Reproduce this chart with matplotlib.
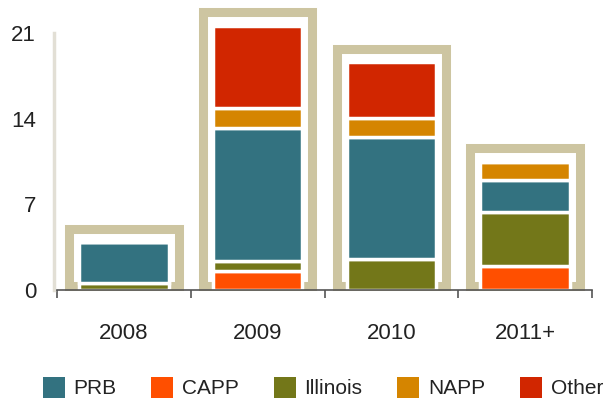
import numpy as np
import matplotlib
matplotlib.use("Agg")
import matplotlib.pyplot as plt
from matplotlib.patches import Rectangle

plt.rcParams['font.family'] = ['Liberation Sans', 'DejaVu Sans']

years = ['2008', '2009', '2010', '2011+']
# coal basin volumes, stacked bottom to top
capp = [0.0, 1.5, 0.0, 1.95]
illinois = [0.57, 0.8, 2.5, 4.4]
prb = [3.3, 10.95, 9.95, 2.6]
napp = [0.0, 1.6, 1.6, 1.5]
other = [0.0, 6.75, 4.55, 0.0]
yticks = [0, 7, 14, 21]

stack = [('CAPP', capp, '#FF4F00'),
         ('Illinois', illinois, '#737719'),
         ('PRB', prb, '#337280'),
         ('NAPP', napp, '#D58500'),
         ('Other', other, '#D12600')]
legend_order = ['PRB', 'CAPP', 'Illinois', 'NAPP', 'Other']

fig = plt.figure(figsize=(6.03, 4.03), dpi=100)
ax = fig.add_axes([57/603, 1 - 289.5/403, 535/603, 287/403])

x = np.arange(len(years))
bottom = np.zeros(len(years))
colors = {}
for name, vals, col in stack:
    vals = np.array(vals)
    ax.bar(x, vals, 0.67, bottom=bottom, color=col, edgecolor='white',
           linewidth=2.5, zorder=3)
    colors[name] = col
    bottom += vals

# beige outline around each stacked column
frame_w = 0.82
for xi, tot in zip(x, bottom):
    ax.add_patch(Rectangle((xi - frame_w/2, 0.25), frame_w, tot + 1.1 - 0.25,
                           facecolor='none', edgecolor='#CDC5A1', linewidth=6.5,
                           joinstyle='miter', zorder=2, clip_on=False))

ax.set_xlim(-0.5, 3.5)
ax.set_ylim(0, 23.5)

for s in ['top', 'right']:
    ax.spines[s].set_visible(False)
ax.spines['left'].set_color('#E2DFD5')
ax.spines['left'].set_linewidth(2.5)
ax.spines['left'].set_bounds(0, 21)
ax.spines['left'].set_position(('outward', 2))
ax.spines['bottom'].set_color('#555555')
ax.spines['bottom'].set_linewidth(1.2)
ax.spines['bottom'].set_zorder(5)

ax.set_yticks(yticks)
ax.tick_params(axis='y', length=0, pad=13, labelsize=16, labelcolor='#222222')
ax.set_xticks(x)
ax.set_xticklabels(years)
ax.set_xticks(np.arange(-0.5, 4, 1), minor=True)
ax.tick_params(axis='x', which='major', length=0, pad=24, labelsize=16,
               labelcolor='#222222')
ax.tick_params(axis='x', which='minor', length=6, width=1.2, color='#555555',
               direction='out')

proxies = [Rectangle((0, 0), 1, 1, facecolor=colors[n], edgecolor='none')
           for n in legend_order]
fig.legend(proxies, legend_order,
           loc='center left', bbox_to_anchor=(42.5/603, 1 - 387.5/403),
           ncol=5, frameon=False, fontsize=15, handlelength=1.06,
           handleheight=1.22, handletextpad=0.41, columnspacing=1.68,
           borderpad=0, borderaxespad=0, labelcolor='#222222')

fig.savefig('out.png', dpi=100)
